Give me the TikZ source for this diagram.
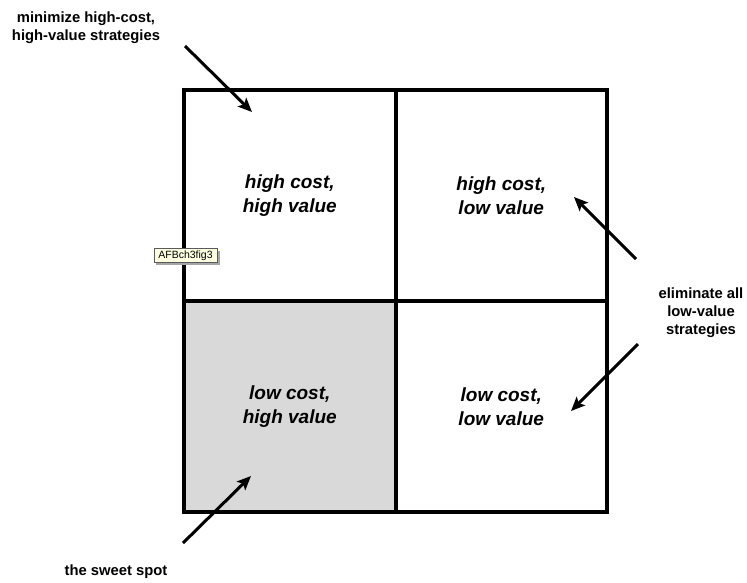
\documentclass[tikz,border=0pt]{standalone}
\usepackage{fontspec}
\setmainfont{Liberation Sans}
\usetikzlibrary{arrows.meta}
\definecolor{sweetgray}{RGB}{217,217,217}
\definecolor{tipfill}{RGB}{255,255,225}
\definecolor{tipedge}{RGB}{90,90,90}
\tikzset{
  quad/.style={draw, line width=4pt, minimum width=211.5pt, minimum height=211pt,
    inner sep=0pt, align=center, font=\bfseries\itshape\fontsize{19}{24}\selectfont},
  note/.style={align=center, inner sep=0pt, font=\bfseries\fontsize{14.8}{17.8}\selectfont},
  pointer/.style={line width=3pt, -{Stealth[length=14pt, width=12pt, inset=3pt]}},
  tag/.style={draw=tipedge, line width=0.8pt, fill=tipfill, minimum width=63pt,
    minimum height=14pt, inner sep=0pt, font=\fontsize{10.5}{12}\selectfont}
}
\begin{document}
\begin{tikzpicture}[x=1pt, y=-1pt, line join=miter]
  \useasboundingbox (0,0) rectangle (747,582);

  % the four quadrants of the cost/value grid
  \node[quad] (hh) at (289.75,195.5) {high cost,\\high value};
  \node[quad] (hl) at (501.25,195.5) {high cost,\\low value};
  \node[quad, fill=sweetgray] (lh) at (289.75,406.5) {low cost,\\high value};
  \node[quad] (ll) at (501.25,406.5) {low cost,\\low value};

  % callout labels
  \node[note] (minimize) at (86,27.5) {minimize high-cost,\\high-value strategies};
  \node[note] (eliminate) at (701,312.5) {eliminate all\\low-value\\strategies};
  \node[note, anchor=base] (sweet) at (116,575) {the sweet spot};

  % arrow ends
  \coordinate (m0) at (185,46);   \coordinate (m1) at (252,112);
  \coordinate (e0) at (636,259);  \coordinate (e1) at (574,197);
  \coordinate (f0) at (638,344);  \coordinate (f1) at (571,411);
  \coordinate (s0) at (183,543);  \coordinate (s1) at (251,476);

  \draw[pointer] (m0) -- (m1);
  \draw[pointer] (e0) -- (e1);
  \draw[pointer] (f0) -- (f1);
  \draw[pointer] (s0) -- (s1);

  % figure tag
  \fill[black!35] (156,251) rectangle (219.5,264.5);
  \node[tag] (figtag) at (185.5,255.5) {AFBch3fig3};
\end{tikzpicture}
\end{document}
